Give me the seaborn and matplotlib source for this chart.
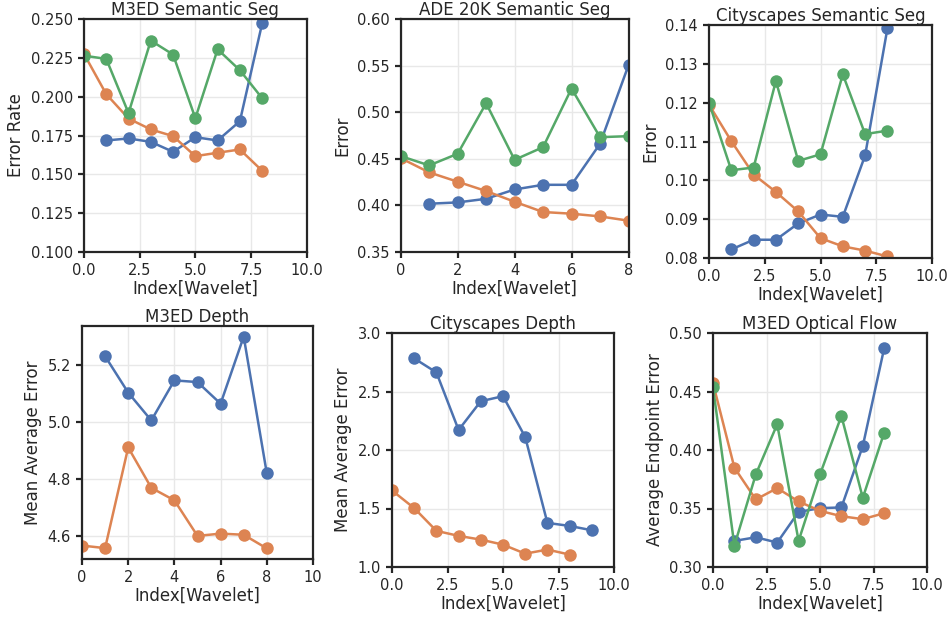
import numpy as np
import pandas as pd
import matplotlib
matplotlib.use("Agg")
import matplotlib.pyplot as plt
import seaborn as sns

# ---- data -------------------------------------------------------------
series_names = ["method_a", "method_b", "method_c"]
series_colors = ["#4C72B0", "#DD8452", "#55A868"]

idx_a = [1, 2, 3, 4, 5, 6, 7, 8]
idx_b = [0, 1, 2, 3, 4, 5, 6, 7, 8]
idx_depth_city_a = [1, 2, 3, 4, 5, 6, 7, 8, 9]

m3ed_seg_a = [0.1718, 0.1731, 0.1709, 0.1645, 0.1739, 0.1718, 0.1842, 0.2472]
m3ed_seg_b = [0.2275, 0.2016, 0.1859, 0.1789, 0.1746, 0.1617, 0.1639, 0.1660, 0.1523]
m3ed_seg_c = [0.2264, 0.2243, 0.1894, 0.2361, 0.2271, 0.1861, 0.2305, 0.2170, 0.1990]

ade_seg_a = [0.4018, 0.4032, 0.4071, 0.4171, 0.4221, 0.4221, 0.4661, 0.5504]
ade_seg_b = [0.4507, 0.4354, 0.4254, 0.4154, 0.4039, 0.3929, 0.3911, 0.3882, 0.3836]
ade_seg_c = [0.4529, 0.4429, 0.4554, 0.5096, 0.4489, 0.4625, 0.5254, 0.4732, 0.4743]

city_seg_a = [0.0822, 0.0847, 0.0847, 0.0889, 0.0912, 0.0906, 0.1064, 0.1391]
city_seg_b = [0.1195, 0.1101, 0.1015, 0.0970, 0.0920, 0.0851, 0.0830, 0.0819, 0.0804]
city_seg_c = [0.1200, 0.1026, 0.1033, 0.1256, 0.1050, 0.1067, 0.1273, 0.1119, 0.1128]

m3ed_depth_a = [5.232, 5.104, 5.006, 5.147, 5.141, 5.065, 5.301, 4.820]
m3ed_depth_b = [4.566, 4.557, 4.911, 4.769, 4.725, 4.600, 4.608, 4.604, 4.556]

city_depth_a = [2.783, 2.663, 2.171, 2.417, 2.460, 2.111, 1.377, 1.351, 1.314]
city_depth_b = [1.654, 1.503, 1.309, 1.266, 1.234, 1.191, 1.114, 1.149, 1.106]

m3ed_flow_a = [0.3223, 0.3254, 0.3209, 0.3471, 0.3503, 0.3509, 0.4034, 0.4871]
m3ed_flow_b = [0.4571, 0.3849, 0.3577, 0.3674, 0.3560, 0.3480, 0.3434, 0.3409, 0.3460]
m3ed_flow_c = [0.4537, 0.3183, 0.3791, 0.4220, 0.3223, 0.3791, 0.4291, 0.3591, 0.4149]

# ---- style ------------------------------------------------------------
sns.set_theme(style="ticks", rc={
    "axes.grid": True,
    "grid.color": "#e8e8e8",
    "grid.linewidth": 1.0,
    "axes.edgecolor": "#262626",
    "axes.linewidth": 1.6,
    "xtick.major.width": 1.6,
    "ytick.major.width": 1.6,
    "xtick.major.size": 4.5,
    "ytick.major.size": 4.5,
    "xtick.labelsize": 10.5,
    "ytick.labelsize": 10.5,
    "axes.labelsize": 12,
    "axes.titlesize": 12,
})
plt.rcParams["font.family"] = ["DejaVu Sans"]

W, H = 951, 619
fig = plt.figure(figsize=(W / 100, H / 100), dpi=100)


def add_axes(left, top, right, bottom):
    return fig.add_axes([left / W, 1 - bottom / H, (right - left) / W, (bottom - top) / H])


def frame(groups):
    rows = []
    for name, xs, ys in groups:
        for x, y in zip(xs, ys):
            rows.append({"index": x, "value": y, "series": name})
    return pd.DataFrame(rows)


def draw(ax, groups, title, ylabel):
    df = frame(groups)
    names = [g[0] for g in groups]
    pal = {n: series_colors[series_names.index(n)] for n in names}
    sns.lineplot(data=df, x="index", y="value", hue="series", hue_order=names,
                 palette=pal, marker="o", markersize=9, markeredgewidth=0,
                 linewidth=1.8, legend=False, ax=ax, zorder=3)
    ax.set_title(title, pad=3)
    ax.set_xlabel("Index[Wavelet]", labelpad=1)
    ax.set_ylabel(ylabel)
    for s in ax.spines.values():
        s.set_zorder(5)


panels = [
    dict(box=(84, 19, 306.7, 252), title="M3ED Semantic Seg", ylabel="Error Rate",
         groups=[("method_a", idx_a, m3ed_seg_a), ("method_b", idx_b, m3ed_seg_b),
                 ("method_c", idx_b, m3ed_seg_c)],
         xlim=(0, 10), xticks=[0, 2.5, 5, 7.5, 10], ylim=(0.10, 0.25),
         yticks=[0.100, 0.125, 0.150, 0.175, 0.200, 0.225, 0.250]),
    dict(box=(400.7, 19, 628.5, 252), title="ADE 20K Semantic Seg", ylabel="Error",
         groups=[("method_a", idx_a, ade_seg_a), ("method_b", idx_b, ade_seg_b),
                 ("method_c", idx_b, ade_seg_c)],
         xlim=(0, 8), xticks=[0, 2, 4, 6, 8], ylim=(0.35, 0.60),
         yticks=[0.35, 0.40, 0.45, 0.50, 0.55, 0.60]),
    dict(box=(709, 25, 932, 258), title="Cityscapes Semantic Seg", ylabel="Error",
         groups=[("method_a", idx_a, city_seg_a), ("method_b", idx_b, city_seg_b),
                 ("method_c", idx_b, city_seg_c)],
         xlim=(0, 10), xticks=[0, 2.5, 5, 7.5, 10], ylim=(0.08, 0.14),
         yticks=[0.08, 0.09, 0.10, 0.11, 0.12, 0.13, 0.14]),
    dict(box=(82, 326, 313, 559), title="M3ED Depth", ylabel="Mean Average Error",
         groups=[("method_a", idx_a, m3ed_depth_a), ("method_b", idx_b, m3ed_depth_b)],
         xlim=(0, 10), xticks=[0, 2, 4, 6, 8, 10], ylim=None,
         yticks=[4.6, 4.8, 5.0, 5.2]),
    dict(box=(392, 333, 614, 567), title="Cityscapes Depth", ylabel="Mean Average Error",
         groups=[("method_a", idx_depth_city_a, city_depth_a),
                 ("method_b", idx_b, city_depth_b)],
         xlim=(0, 10), xticks=[0, 2.5, 5, 7.5, 10], ylim=(1.0, 3.0),
         yticks=[1.0, 1.5, 2.0, 2.5, 3.0]),
    dict(box=(713, 333, 927, 567), title="M3ED Optical Flow", ylabel="Average Endpoint Error",
         groups=[("method_a", idx_a, m3ed_flow_a), ("method_b", idx_b, m3ed_flow_b),
                 ("method_c", idx_b, m3ed_flow_c)],
         xlim=(0, 10), xticks=[0, 2.5, 5, 7.5, 10], ylim=(0.30, 0.50),
         yticks=[0.30, 0.35, 0.40, 0.45, 0.50]),
]

for p in panels:
    ax = add_axes(*p["box"])
    draw(ax, p["groups"], p["title"], p["ylabel"])
    ax.set_xlim(*p["xlim"])
    ax.set_xticks(p["xticks"])
    ax.set_yticks(p["yticks"])
    if p["ylim"] is not None:
        ax.set_ylim(*p["ylim"])
    else:
        ax.margins(y=0.05)
        ax.autoscale(axis="y")

fig.savefig("out.png", dpi=100)
